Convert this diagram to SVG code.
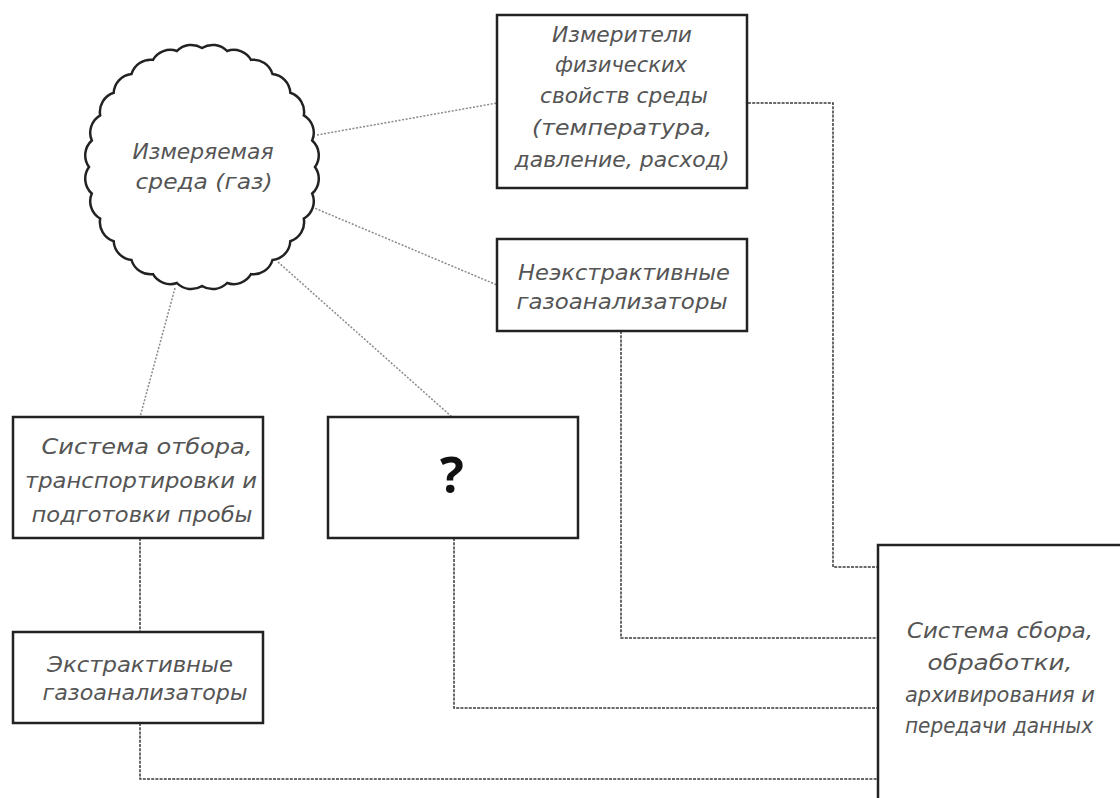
<svg xmlns="http://www.w3.org/2000/svg" width="1120" height="798" viewBox="0 0 1120 798">
<style>
.box{fill:#fff;stroke:#222;stroke-width:2.5}
.t{font-family:"DejaVu Sans","Liberation Sans",sans-serif;font-style:italic;font-size:21px;fill:#555;text-anchor:middle}
.ray{fill:none;stroke:#8a8a8a;stroke-width:1.5;stroke-dasharray:2 1.6}
.wire{fill:none;stroke:#3a3a3a;stroke-width:1.5;stroke-dasharray:3 1.2}
</style>
<rect width="1120" height="798" fill="#fff"/>
<g id="connectors">
<line class="ray" x1="317" y1="135" x2="497" y2="103"/>
<line class="ray" x1="312" y1="207" x2="497" y2="285"/>
<line class="ray" x1="278" y1="262" x2="452" y2="417"/>
<line class="ray" x1="175" y1="288" x2="140" y2="417"/>
<polyline class="wire" points="748,103 833,103 833,567 878,567"/>
<polyline class="wire" points="621,331 621,638 878,638"/>
<polyline class="wire" points="454,538 454,708 878,708"/>
<line class="wire" x1="140" y1="538" x2="140" y2="632"/>
<polyline class="wire" points="140,723 140,779 878,779"/>
</g>
<g id="cloud">
<path fill="#fff" stroke="#222" stroke-width="2.5" d="M315,167 A20,20 0 0 1 312.2,193.5 A20,20 0 0 1 303.8,218.6 A20,20 0 0 1 290.3,241.2 A20,20 0 0 1 272.5,260 A20,20 0 0 1 251,274.2 A20,20 0 0 1 227.1,283 A20,20 0 0 1 202,286 A20,20 0 0 1 176.9,283 A20,20 0 0 1 153,274.2 A20,20 0 0 1 131.5,260 A20,20 0 0 1 113.7,241.2 A20,20 0 0 1 100.2,218.6 A20,20 0 0 1 91.8,193.5 A20,20 0 0 1 89,167 A20,20 0 0 1 91.8,140.5 A20,20 0 0 1 100.2,115.4 A20,20 0 0 1 113.7,92.8 A20,20 0 0 1 131.5,74 A20,20 0 0 1 153,59.8 A20,20 0 0 1 176.9,51 A20,20 0 0 1 202,48 A20,20 0 0 1 227.1,51 A20,20 0 0 1 251,59.8 A20,20 0 0 1 272.5,74 A20,20 0 0 1 290.3,92.8 A20,20 0 0 1 303.8,115.4 A20,20 0 0 1 312.2,140.5 A20,20 0 0 1 315,167 Z"/>
<text class="t" x="203" y="159" textLength="141" lengthAdjust="spacingAndGlyphs">Измеряемая</text>
<text class="t" x="204" y="189" textLength="137" lengthAdjust="spacingAndGlyphs">среда (газ)</text>
</g>
<g id="meters">
<rect class="box" x="497" y="15" width="250" height="173"/>
<text class="t" x="622" y="42" textLength="140" lengthAdjust="spacingAndGlyphs">Измерители</text>
<text class="t" x="621" y="72" textLength="132" lengthAdjust="spacingAndGlyphs">физических</text>
<text class="t" x="624" y="103" textLength="168" lengthAdjust="spacingAndGlyphs">свойств среды</text>
<text class="t" x="622" y="135" textLength="180" lengthAdjust="spacingAndGlyphs">(температура,</text>
<text class="t" x="622" y="167" textLength="215" lengthAdjust="spacingAndGlyphs">давление, расход)</text>
</g>
<g id="nonextractive">
<rect class="box" x="497" y="239" width="250" height="92"/>
<text class="t" x="624" y="280" textLength="212" lengthAdjust="spacingAndGlyphs">Неэкстрактивные</text>
<text class="t" x="622" y="309" textLength="211" lengthAdjust="spacingAndGlyphs">газоанализаторы</text>
</g>
<g id="sampling">
<rect class="box" x="13" y="417" width="250" height="121"/>
<text class="t" x="147" y="454" textLength="211" lengthAdjust="spacingAndGlyphs">Система отбора,</text>
<text class="t" x="141" y="488" textLength="232" lengthAdjust="spacingAndGlyphs">транспортировки и</text>
<text class="t" x="142" y="522" textLength="221" lengthAdjust="spacingAndGlyphs">подготовки пробы</text>
</g>
<g id="unknown">
<rect class="box" x="328" y="417" width="250" height="121"/>
<text x="452" y="493" font-family="'Open Sans','Liberation Sans',sans-serif" font-weight="bold" font-size="50" fill="#111" text-anchor="middle">?</text>
</g>
<g id="extractive">
<rect class="box" x="13" y="632" width="250" height="91"/>
<text class="t" x="140" y="672" textLength="186" lengthAdjust="spacingAndGlyphs">Экстрактивные</text>
<text class="t" x="145" y="700" textLength="205" lengthAdjust="spacingAndGlyphs">газоанализаторы</text>
</g>
<g id="datasystem">
<rect class="box" x="878" y="545" width="270" height="280"/>
<text class="t" x="1000" y="638" textLength="186" lengthAdjust="spacingAndGlyphs">Система сбора,</text>
<text class="t" x="1000" y="670" textLength="145" lengthAdjust="spacingAndGlyphs">обработки,</text>
<text class="t" x="1000" y="702" textLength="190" lengthAdjust="spacingAndGlyphs">архивирования и</text>
<text class="t" x="999" y="733" textLength="188" lengthAdjust="spacingAndGlyphs">передачи данных</text>
</g>
</svg>
